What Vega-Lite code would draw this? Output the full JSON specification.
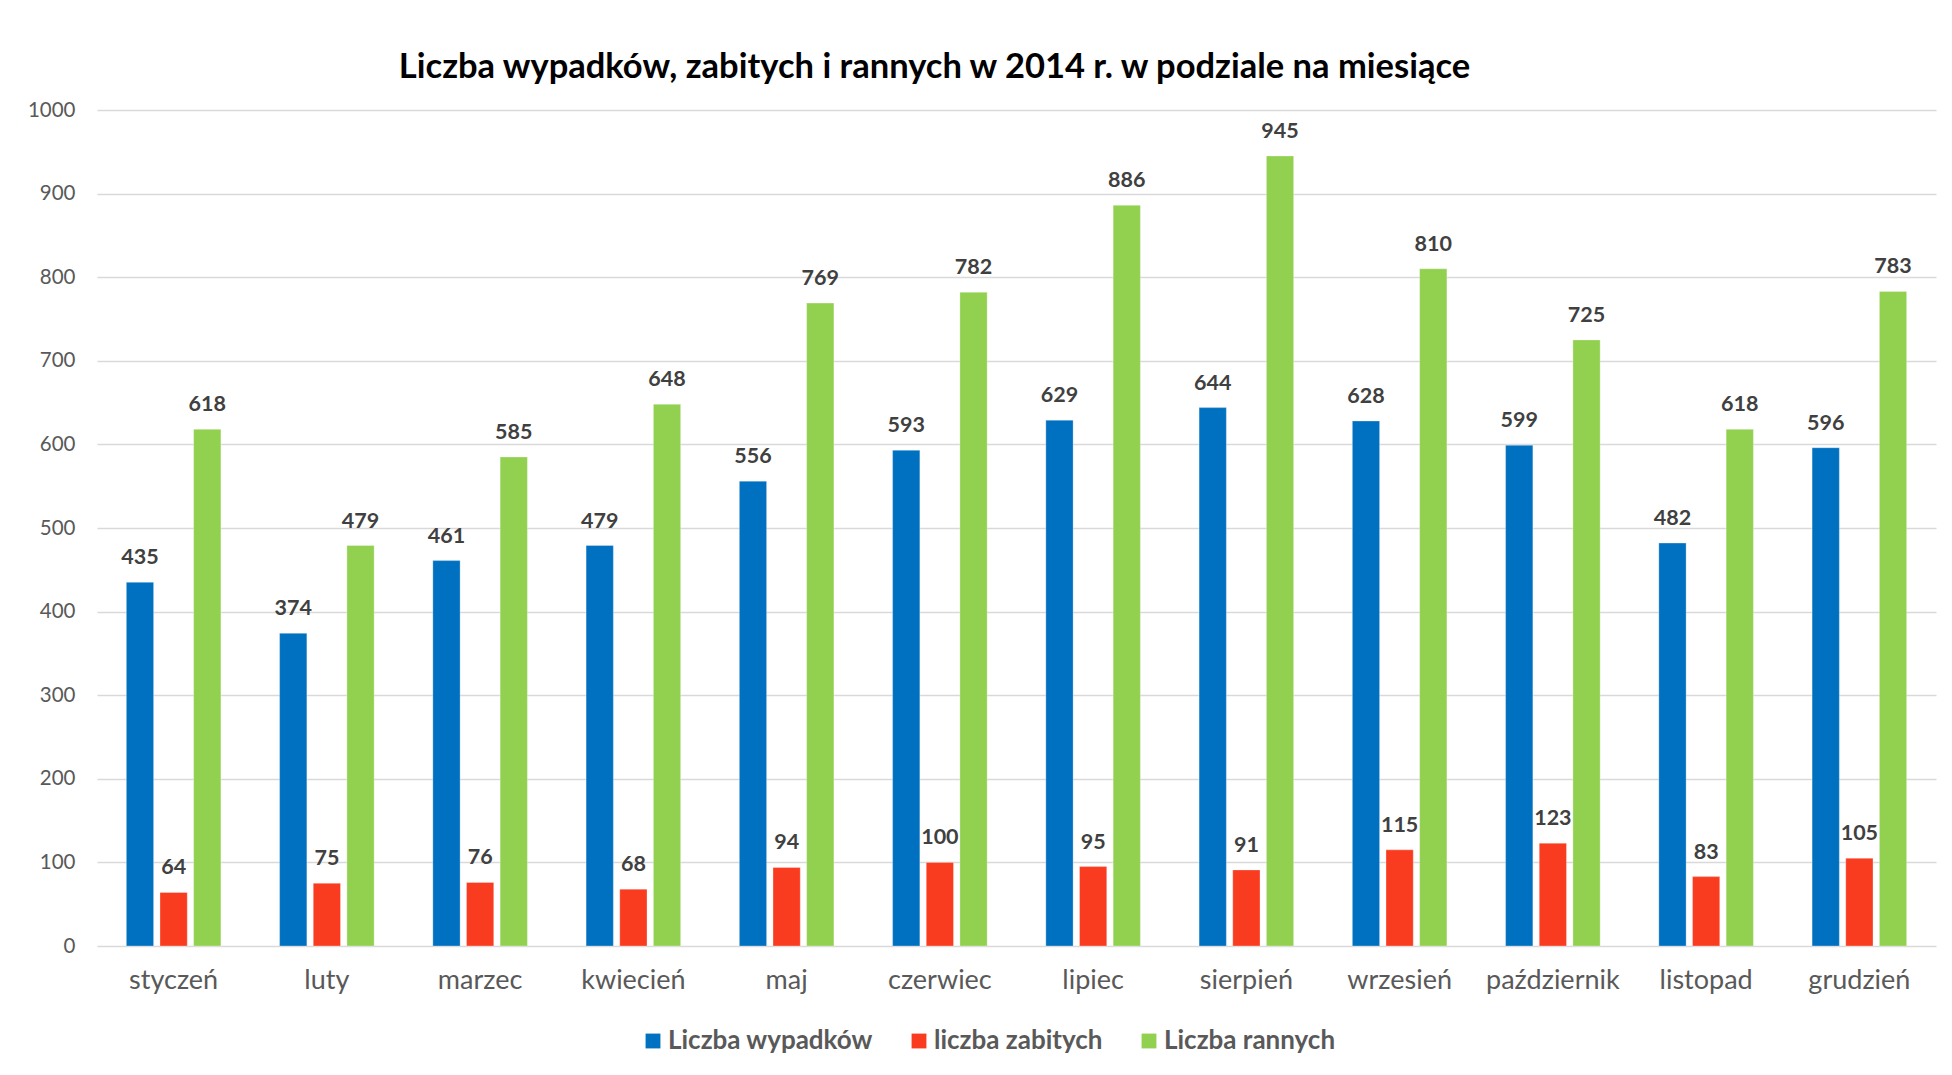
{
  "$schema": "https://vega.github.io/schema/vega-lite/v6.json",
  "width": 1839,
  "height": 836,
  "autosize": {"type": "none"},
  "padding": {"left": 97, "top": 110, "right": 16, "bottom": 129},
  "background": "white",
  "title": {
    "text": "Liczba wypadków, zabitych i rannych w 2014 r. w podziale na miesiące",
    "anchor": "middle",
    "frame": "group",
    "dx": -82,
    "offset": 15,
    "font": "Lato",
    "fontSize": 34.5,
    "fontWeight": "bold",
    "color": "#000000"
  },
  "data": {
    "values": [
      {"miesiac": "styczeń", "seria": "Liczba wypadków", "wartosc": 435},
      {"miesiac": "styczeń", "seria": "liczba zabitych", "wartosc": 64},
      {"miesiac": "styczeń", "seria": "Liczba rannych", "wartosc": 618},
      {"miesiac": "luty", "seria": "Liczba wypadków", "wartosc": 374},
      {"miesiac": "luty", "seria": "liczba zabitych", "wartosc": 75},
      {"miesiac": "luty", "seria": "Liczba rannych", "wartosc": 479},
      {"miesiac": "marzec", "seria": "Liczba wypadków", "wartosc": 461},
      {"miesiac": "marzec", "seria": "liczba zabitych", "wartosc": 76},
      {"miesiac": "marzec", "seria": "Liczba rannych", "wartosc": 585},
      {"miesiac": "kwiecień", "seria": "Liczba wypadków", "wartosc": 479},
      {"miesiac": "kwiecień", "seria": "liczba zabitych", "wartosc": 68},
      {"miesiac": "kwiecień", "seria": "Liczba rannych", "wartosc": 648},
      {"miesiac": "maj", "seria": "Liczba wypadków", "wartosc": 556},
      {"miesiac": "maj", "seria": "liczba zabitych", "wartosc": 94},
      {"miesiac": "maj", "seria": "Liczba rannych", "wartosc": 769},
      {"miesiac": "czerwiec", "seria": "Liczba wypadków", "wartosc": 593},
      {"miesiac": "czerwiec", "seria": "liczba zabitych", "wartosc": 100},
      {"miesiac": "czerwiec", "seria": "Liczba rannych", "wartosc": 782},
      {"miesiac": "lipiec", "seria": "Liczba wypadków", "wartosc": 629},
      {"miesiac": "lipiec", "seria": "liczba zabitych", "wartosc": 95},
      {"miesiac": "lipiec", "seria": "Liczba rannych", "wartosc": 886},
      {"miesiac": "sierpień", "seria": "Liczba wypadków", "wartosc": 644},
      {"miesiac": "sierpień", "seria": "liczba zabitych", "wartosc": 91},
      {"miesiac": "sierpień", "seria": "Liczba rannych", "wartosc": 945},
      {"miesiac": "wrzesień", "seria": "Liczba wypadków", "wartosc": 628},
      {"miesiac": "wrzesień", "seria": "liczba zabitych", "wartosc": 115},
      {"miesiac": "wrzesień", "seria": "Liczba rannych", "wartosc": 810},
      {"miesiac": "październik", "seria": "Liczba wypadków", "wartosc": 599},
      {"miesiac": "październik", "seria": "liczba zabitych", "wartosc": 123},
      {"miesiac": "październik", "seria": "Liczba rannych", "wartosc": 725},
      {"miesiac": "listopad", "seria": "Liczba wypadków", "wartosc": 482},
      {"miesiac": "listopad", "seria": "liczba zabitych", "wartosc": 83},
      {"miesiac": "listopad", "seria": "Liczba rannych", "wartosc": 618},
      {"miesiac": "grudzień", "seria": "Liczba wypadków", "wartosc": 596},
      {"miesiac": "grudzień", "seria": "liczba zabitych", "wartosc": 105},
      {"miesiac": "grudzień", "seria": "Liczba rannych", "wartosc": 783}
    ]
  },
  "encoding": {
    "x": {
      "field": "miesiac",
      "type": "nominal",
      "sort": null,
      "title": null,
      "scale": {"paddingInner": 0.383, "paddingOuter": 0.1915},
      "axis": {
        "domain": false,
        "ticks": false,
        "labelAngle": 0,
        "labelFont": "Lato",
        "labelFontSize": 27,
        "labelColor": "#595959",
        "labelPadding": 21,
        "grid": false
      }
    },
    "xOffset": {
      "field": "seria",
      "type": "nominal",
      "sort": ["Liczba wypadków", "liczba zabitych", "Liczba rannych"],
      "scale": {"paddingInner": 0.19, "paddingOuter": 0}
    },
    "y": {
      "field": "wartosc",
      "type": "quantitative",
      "title": null,
      "scale": {"domain": [0, 1000], "nice": false},
      "axis": {
        "values": [0, 100, 200, 300, 400, 500, 600, 700, 800, 900, 1000],
        "format": "d",
        "domain": false,
        "ticks": false,
        "labelFont": "Lato",
        "labelFontSize": 20.5,
        "labelColor": "#595959",
        "labelPadding": 22,
        "grid": true,
        "gridColor": "#D9D9D9",
        "gridWidth": 1.5
      }
    }
  },
  "layer": [
    {
      "mark": {"type": "bar", "stroke": "white", "strokeWidth": 0.6, "strokeOpacity": 0.5},
      "encoding": {
        "color": {
          "field": "seria",
          "type": "nominal",
          "sort": ["Liczba wypadków", "liczba zabitych", "Liczba rannych"],
          "scale": {
            "domain": ["Liczba wypadków", "liczba zabitych", "Liczba rannych"],
            "range": ["#0070C0", "#F93C1F", "#92D050"]
          },
          "legend": {
            "title": null,
            "orient": "none",
            "direction": "horizontal",
            "legendX": 543,
            "legendY": 918,
            "symbolType": "square",
            "symbolSize": 220,
            "symbolStrokeWidth": 0,
            "labelFont": "Lato",
            "labelFontSize": 26,
            "labelFontWeight": "bold",
            "labelColor": "#595959",
            "labelOffset": 2,
            "columnPadding": 33,
            "labelLimit": 400
          }
        }
      }
    },
    {
      "mark": {
        "type": "text",
        "baseline": "alphabetic",
        "dy": -18,
        "font": "Lato",
        "fontSize": 21.5,
        "fontWeight": "bold",
        "color": "#404040"
      },
      "encoding": {
        "text": {"field": "wartosc", "type": "quantitative"}
      }
    }
  ],
  "config": {
    "view": {"stroke": null}
  }
}
